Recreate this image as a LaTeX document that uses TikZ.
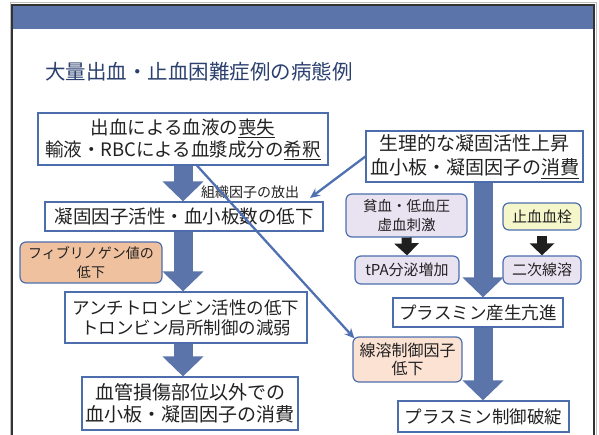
\documentclass[tikz,border=0pt]{standalone}
\usepackage{fontspec}
\setmainfont{Noto Sans CJK JP}
\usetikzlibrary{arrows.meta}
\definecolor{hdr}{HTML}{5B74AA}
\definecolor{boxc}{HTML}{4C6EAD}
\definecolor{linec}{HTML}{4F71B2}
\definecolor{txt}{HTML}{222222}
\definecolor{ttl}{HTML}{2B406E}
\definecolor{orgA}{HTML}{F0C19F}
\definecolor{orgB}{HTML}{FBE2D2}
\definecolor{purp}{HTML}{E9E2F1}
\definecolor{yel}{HTML}{F6F6CB}
\definecolor{frm}{HTML}{333333}
\newcommand\ulx[1]{\underline{#1}}
\newcommand\fs[2]{\fontsize{#1}{#2}\selectfont}
\tikzset{
  box/.style={draw=boxc, line width=1.2pt, fill=white, inner sep=0pt, align=center, text=txt},
  rbox/.style={box, rounded corners=6pt},
  bigarr/.style={draw=hdr, line width=19pt, -{Triangle[length=20pt,width=40pt]}},
  blkarr/.style={draw=black!88, line width=10pt, -{Triangle[length=12pt,width=24pt]}},
  link/.style={draw=linec, line width=2.3pt, -{Stealth[length=10pt,width=9pt]}},
}
\begin{document}
\begin{tikzpicture}[x=1pt,y=-1pt]
\useasboundingbox (0,0) rectangle (599,435);
% slide frame
\fill[hdr] (12,5) rectangle (594,29);
\draw[gray!50, line width=1pt] (10,440) -- (10,3) -- (596,3) -- (596,440);
\draw[frm, line width=2pt] (12,440) -- (12,5) -- (594,5) -- (594,440);
\node[anchor=west, text=ttl, font=\fs{20.5}{24}, inner sep=0pt] (title) at (45,72) {大量出血・止血困難症例の病態例};

\coordinate (L) at (183,0);
\coordinate (R) at (483,0);

% nodes
\node[box, minimum width=290pt, minimum height=52pt, font=\fs{18.5}{22}] (b1) at (183,139)
  {出血による血液の\ulx{喪失}\\輸液・RBCによる血漿成分の\ulx{希釈}};
\node[box, minimum width=278pt, minimum height=29pt, font=\fs{18.5}{22}] (b2) at (184,216.5)
  {凝固因子活性・血小板数の低下};
\node[rbox, fill=orgA, minimum width=142pt, minimum height=41pt, font=\fs{14}{19}] (o1) at (91,262.5)
  {フィブリノゲン値の\\低下};
\node[box, minimum width=242pt, minimum height=51pt, font=\fs{17.5}{20}] (b3) at (186,317.5)
  {アンチトロンビン活性の低下\\トロンビン局所制御の減弱};
\node[box, minimum width=216pt, minimum height=53pt, font=\fs{19}{22}] (b4) at (190,403.5)
  {血管損傷部位以外での\\血小板・凝固因子の消費};

\node[box, minimum width=217pt, minimum height=51pt, font=\fs{19}{24}] (b5) at (474.5,156.5)
  {生理的な凝固活性上昇\\血小板・凝固因子の\ulx{消費}};
\node[rbox, fill=purp, minimum width=121pt, minimum height=43pt, font=\fs{14.5}{19}] (p1) at (406.5,215.5)
  {貧血・低血圧\\虚血刺激};
\node[rbox, fill=purp, minimum width=104pt, minimum height=28pt, font=\fs{15}{18}] (tpa) at (407,270)
  {tPA分泌増加};
\node[rbox, fill=yel, minimum width=78pt, minimum height=27pt, font=\fs{15}{18}] (st) at (542,216.5)
  {止血血栓};
\node[rbox, fill=purp, minimum width=78pt, minimum height=28pt, font=\fs{15}{18}] (nj) at (542,270)
  {二次線溶};
\node[box, minimum width=170pt, minimum height=29pt, font=\fs{17.5}{20}] (pl1) at (478,312.5)
  {プラスミン産生亢進};
\node[rbox, fill=orgB, minimum width=109pt, minimum height=45pt, font=\fs{16}{18}] (o2) at (407.5,359.5)
  {線溶制御因子\\低下};
\node[box, minimum width=171pt, minimum height=31pt, font=\fs{17.5}{20}] (pl2) at (483.5,416.5)
  {プラスミン制御破綻};

\node[text=txt, font=\fs{14}{16}, inner sep=0pt] (tf) at (250,192) {組織因子の放出};

% big arrows
\draw[bigarr] (b1.south -| L) -- (b2.north -| L);
\draw[bigarr] (b2.south -| L) -- (b3.north -| L);
\draw[bigarr] (b3.south -| L) -- (b4.north -| L);
\draw[bigarr] (b5.south -| R) -- (pl1.north -| R);
\draw[bigarr] (pl1.south -| R) -- (pl2.north -| R);
% black arrows
\draw[blkarr] (p1.south) -- (tpa.north);
\draw[blkarr, shorten <=5pt] (st.south) -- (nj.north);

% thin links
\coordinate (tfend) at (310,198);
\draw[link] (b5.west) -- (tfend);
\draw[link] ([xshift=14pt]b1.south) -- ([xshift=2pt,yshift=-2pt]o2.north west);
\end{tikzpicture}
\end{document}
